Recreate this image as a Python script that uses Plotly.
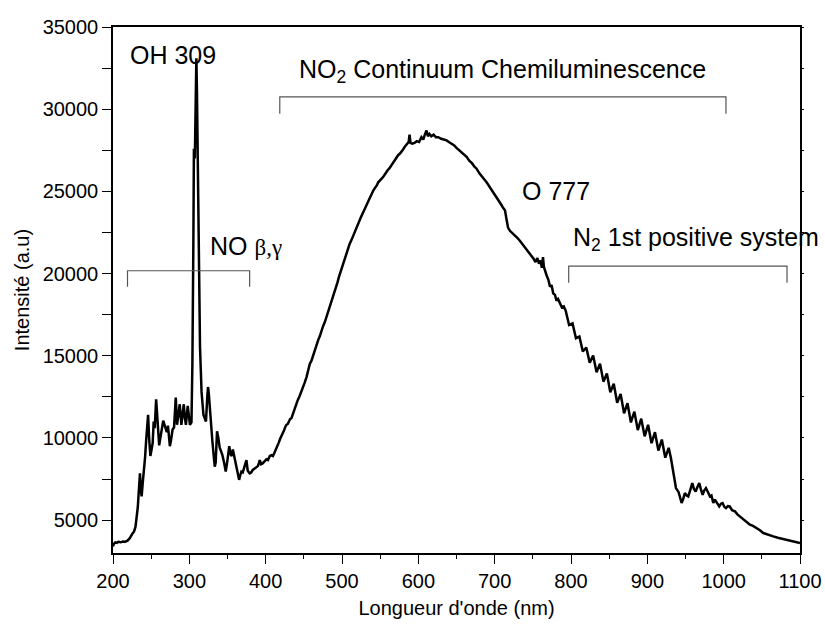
import plotly.graph_objects as go

# ---- data ----
# UV part (NO beta/gamma bands and OH 309 line)
uv_wavelength = [
    200, 201, 203, 205, 207, 210, 213, 216, 219, 222, 225, 227.5, 229.5, 231, 232.5, 234, 235.3, 236.5, 237.5,
    239, 240.5, 242, 243.5, 245, 246, 247.3, 249, 250.5, 252, 253.3, 254.7, 256.5, 258, 259.3, 260.5, 262,
    264, 265.8, 267.5, 269, 270.5, 272, 273.3, 274.5, 276, 278, 280, 282.2, 283.9, 285.5, 287.4, 289.6, 291,
    292.7, 294.2, 295.5, 297.9, 299.5, 300.8, 302.8, 304, 305.3, 306, 307.2, 308.2, 309.2, 310, 311.2, 312.5,
    314, 316, 318.5, 320.2, 321.8, 323.5, 324.5, 325.5, 326.7, 328.5, 330.2, 332, 333.3, 334.5, 336.3, 338,
    339.8, 341.5, 343.3, 345.5, 347.7, 349.5, 351, 352.3, 354, 355.5, 357, 358.5, 360.8, 362.5, 365.2, 366.5,
    368.2, 370, 371.5, 373, 374.8, 376.5, 379, 381, 383, 386, 388, 390, 392.3, 394, 396, 398.9,
]
uv_intensity = [
    3400, 3550, 3650, 3620, 3680, 3650, 3700, 3690, 3750, 3900, 4150, 4300, 4600, 5100, 5800, 6900, 7850, 6900, 6450,
    7300, 7900, 8800, 9900, 11000, 11400, 10000, 8900, 9300, 9700, 11000, 10600, 12350, 11300, 10200, 9550, 10000,
    10600, 11050, 10800, 10500, 10350, 10750, 10000, 9500, 9850, 10500, 10650, 12450, 10800, 11500, 12050, 10800, 11500,
    12050, 11200, 10800, 11950, 11100, 10800, 10950, 14500, 22000, 27600, 27000, 30500, 33100, 31000, 25000, 19500,
    15500, 12800, 11400, 11200, 11000, 12500, 13100, 12700, 11800, 10700, 9800, 8900, 8250, 8500, 10400, 10000,
    9400, 9200, 8950, 8500, 7950, 8500, 9300, 9500, 9000, 8900, 9300, 8950, 8450, 8000, 7450, 7700,
    7950, 7900, 8100, 8400, 8650, 8000, 7850, 7900, 8050, 8150, 8250, 8300, 8650, 8400, 8450, 8600,
]

# NO2 continuum part
cont_wavelength = [
    401, 403, 405.5, 407.6, 409.5, 411.5, 413, 414.5, 417, 419, 420.7, 422.5, 424, 426, 427.2, 429, 430.5, 432,
    433.8, 435.5, 437, 438.5, 440.4, 442, 444.5, 446.5, 449, 451, 453.5, 455.5, 457.8, 460, 462, 464, 466.6,
    468.8, 471, 473, 475.2, 477.5, 480, 482, 484, 486, 488.3, 490, 492, 494, 496, 498, 500, 502.5, 505, 507.5,
    510, 512.5, 515, 517.5, 520, 522.5, 525, 527.5, 530, 532.5, 535.5, 538, 541, 543, 545.5, 547.5, 550, 552.5,
    555, 557.5, 560, 562, 564, 567, 569, 571.5, 573.5, 576, 578, 580, 582, 584.5, 587.3, 588.5, 589.8, 592, 595,
    598, 601, 604, 606.5, 608.5, 610.7, 612.5, 614.5, 617, 620, 623, 626, 630, 633.5, 637, 640, 643.5, 647, 650,
    653.5, 657, 660, 663.2, 667, 670.5, 673.5, 676.3, 680, 683, 686, 689.4, 693, 696, 699.5, 702.5, 705.5, 708.5,
    711, 713.5, 715.5, 717.5, 720, 722.5, 725, 727.5, 730, 733, 735.5, 738, 740.5, 743, 746, 748.5, 751, 753.5,
    756, 758, 760, 761.8, 763.3, 764.5, 765.8, 768, 770.5, 772.5, 774.5, 776.7, 779, 781, 783, 785.5, 788,
]
cont_intensity = [
    8700, 8650, 8900, 8950, 8900, 9100, 9300, 9450, 9700, 9950, 10100, 10250, 10450, 10700, 10800, 10850, 11000, 11150,
    11200, 11450, 11600, 11850, 12100, 12300, 12550, 12800, 13000, 13350, 13700, 14150, 14500, 14700, 15000, 15300, 15550,
    15950, 16200, 16550, 16800, 17050, 17400, 17750, 18000, 18300, 18600, 18900, 19200, 19450, 19800, 20100, 20400, 20700, 21100, 21450,
    21800, 22050, 22350, 22650, 22900, 23150, 23450, 23700, 24000, 24200, 24500, 24800, 25050, 25200, 25350, 25550, 25650, 25800,
    25950, 26150, 26300, 26400, 26550, 26750, 26850, 27050, 27200, 27300, 27400, 27550, 27700, 27850, 28000, 28450, 27950, 27900, 27950,
    28050, 28000, 28300, 28150, 28450, 28700, 28350, 28500, 28350, 28450, 28300, 28300, 28200, 28150, 28100, 28000, 27900, 27800, 27650,
    27500, 27350, 27200, 27100, 26850, 26700, 26500, 26380, 26100, 25950, 25750, 25550, 25300, 25100, 24900, 24650, 24450, 24200,
    24000, 23850, 23300, 22800, 22600, 22500, 22350, 22250, 22150, 22000, 21850, 21700, 21600, 21400, 21200, 21100, 20900, 20700,
    20950, 20600, 20800, 20350, 21000, 20400, 20150, 19900, 19600, 19200, 19300, 18800, 18700, 18350, 18450, 18200, 17950,
]

# N2 first positive system / near-IR part
ir_wavelength = [
    790.5, 793, 797.5, 802, 806.5, 811, 815.5, 820, 824.5, 829, 833.5, 838, 842.5, 847, 851.5, 856, 860.5,
    865, 869.5, 874, 878.5, 883, 887.5, 892, 896.5, 901, 905.5, 910, 914.5, 919, 923.5, 928, 931, 934,
    937.5, 941, 944.9, 947, 949.2, 951.5, 953.6, 956, 958.9, 961, 963.3, 965.5, 968, 970, 972.4, 974.5,
    976.8, 979.5, 982, 984, 986.4, 988.5, 990.7, 992.5, 994.2, 996.5, 998.6, 1001, 1003, 1005.5, 1008, 1011,
    1014.8, 1018, 1021.3, 1024.5, 1027.9, 1031, 1034.4, 1038.5, 1043.2, 1047.5, 1051.9, 1058, 1065, 1071,
    1078, 1084, 1091.2, 1095, 1100,
]
ir_intensity = [
    18000, 17750, 16870, 16970, 16065, 16170, 15260, 15500, 14580, 15010, 14000, 14520, 13425, 13920, 12780, 13300, 12140,
    12680, 11500, 12110, 10940, 11600, 10480, 11170, 10100, 10800, 9680, 10350, 9230, 9900, 8800, 9400, 8750, 7860,
    6950, 6700, 6040, 6300, 6650, 6500, 6440, 6800, 7250, 6900, 6740, 7000, 7250, 6900, 6540, 6800,
    6950, 6700, 6440, 6500, 6040, 6250, 6100, 5950, 5830, 6000, 6040, 5800, 5730, 5850, 5830, 5600,
    5530, 5350, 5220, 5150, 5020, 4880, 4720, 4650, 4520, 4380, 4215, 4100, 4010, 3930,
    3850, 3780, 3705, 3660, 3610,
]

wavelength_nm = uv_wavelength + cont_wavelength + ir_wavelength
intensity_au = uv_intensity + cont_intensity + ir_intensity

x_range = [200, 1100]
y_range = [3000, 35000]
x_tick_vals = [200, 300, 400, 500, 600, 700, 800, 900, 1000, 1100]
y_tick_vals = [5000, 10000, 15000, 20000, 25000, 30000, 35000]

# brackets: (x_start, x_end, y_top, y_leg_bottom)
bracket_x0 = [219, 418.5, 797]
bracket_x1 = [379, 1003, 1083]
bracket_ytop = [20170, 30750, 20450]
bracket_ybot = [19200, 29720, 19440]

label_texts = [
    "OH 309",
    "NO <span style='font-family:Liberation Serif;font-size:23px'>β,γ</span>",
    "NO<sub>2</sub> Continuum Chemiluminescence",
    "O 777",
    "N<sub>2</sub> 1st positive system",
]
label_x = [219.5, 324.5, 440.5, 733, 799.5]
label_y = [33300, 21700, 32350, 25000, 22100]

FONT = "Arial, Liberation Sans, Helvetica, sans-serif"

fig = go.Figure()
fig.add_trace(go.Scatter(
    x=wavelength_nm, y=intensity_au, mode="lines",
    line=dict(color="black", width=2.5, shape="linear"),
    showlegend=False, hoverinfo="skip",
))
# invisible trace to host the right-side tick axis
fig.add_trace(go.Scatter(x=[x_range[0]], y=[y_range[0]], yaxis="y2", mode="markers",
                         marker=dict(opacity=0), showlegend=False, hoverinfo="skip"))

shapes = []
for x0, x1, yt, yb in zip(bracket_x0, bracket_x1, bracket_ytop, bracket_ybot):
    shapes.append(dict(type="path", xref="x", yref="y",
                       path=f"M {x0},{yb} L {x0},{yt} L {x1},{yt} L {x1},{yb}",
                       line=dict(color="#555555", width=1.2)))

annotations = []
for t, x, y in zip(label_texts, label_x, label_y):
    annotations.append(dict(text=t, x=x, y=y, xref="x", yref="y", xanchor="left",
                            yanchor="middle", showarrow=False,
                            font=dict(family=FONT, size=25, color="black")))

fig.update_layout(
    width=825, height=624,
    margin=dict(l=113, r=25, t=27, b=71, autoexpand=False),
    paper_bgcolor="white", plot_bgcolor="white",
    font=dict(family=FONT, color="black"),
    shapes=shapes, annotations=annotations,
    xaxis=dict(
        range=x_range, tickvals=x_tick_vals, ticks="outside", ticklen=9, tickwidth=1.3,
        tickcolor="black", showline=True, linecolor="black", linewidth=1.5, mirror=True,
        showgrid=False, zeroline=False, tickfont=dict(size=20), automargin=False,
        minor=dict(dtick=50, ticks="outside", ticklen=4, tickwidth=1.3, tickcolor="black", showgrid=False),
        title=dict(text="Longueur d'onde (nm)", font=dict(size=20), standoff=10),
    ),
    yaxis=dict(
        range=y_range, tickvals=y_tick_vals, tickformat="d", ticks="outside", ticklen=9, tickwidth=1.3,
        tickcolor="black", showline=True, linecolor="black", linewidth=1.5, mirror=True,
        showgrid=False, zeroline=False, tickfont=dict(size=20), automargin=False,
        minor=dict(dtick=2500, tick0=0, ticks="outside", ticklen=9, tickwidth=1.3, tickcolor="black", showgrid=False),
        title=dict(text="Intensité (a.u)", font=dict(size=20), standoff=8),
    ),
    yaxis2=dict(
        overlaying="y", side="right", range=y_range, dtick=2500, tick0=0,
        ticks="outside", ticklen=3, tickcolor="black", showticklabels=False,
        showgrid=False, zeroline=False, showline=False, automargin=False,
    ),
)

# remove the browser's default 8px page margin so the figure fills the window exactly
fig.write_html("out.html", config={"displayModeBar": False},
               post_script="document.body.style.margin='0';document.body.style.overflow='hidden';")
